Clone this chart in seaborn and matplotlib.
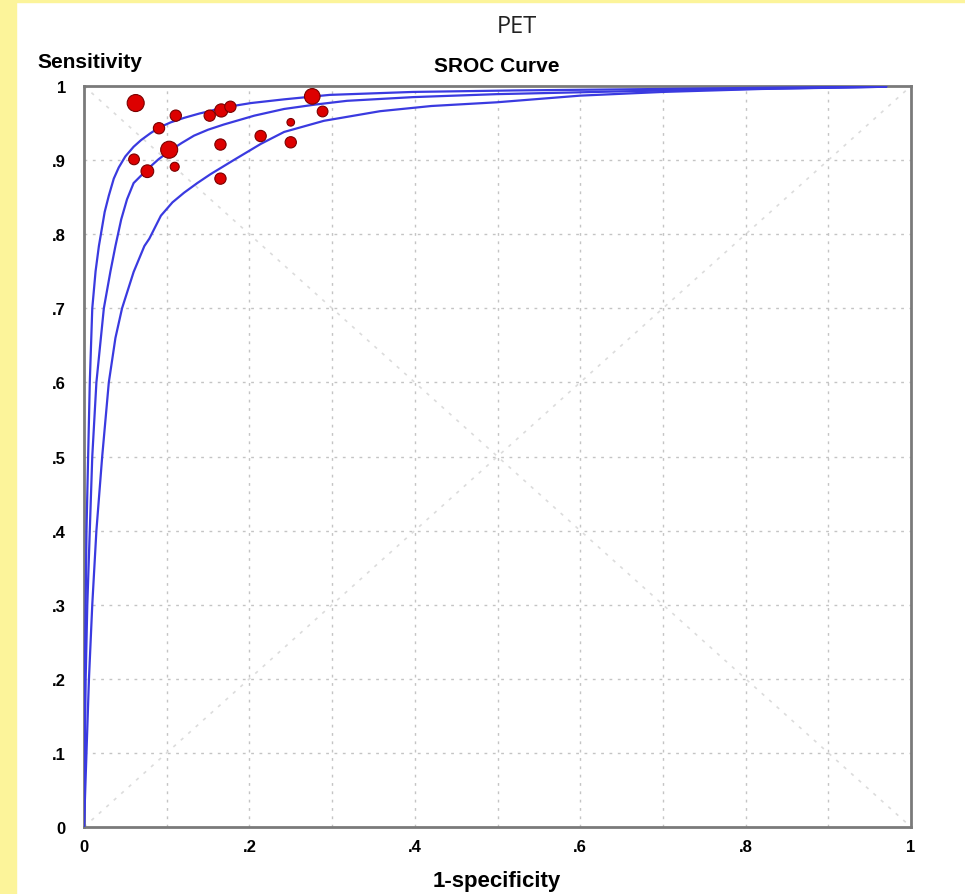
"""
SROC curve for PET (sensitivity vs 1-specificity), redrawn with seaborn.
"""
import matplotlib
matplotlib.use("Agg")
import matplotlib.pyplot as plt
from matplotlib.patches import Rectangle
import pandas as pd
import seaborn as sns

# study points (1-specificity, sensitivity, relative weight)
study_fpr = [0.0625, 0.111, 0.0907, 0.152, 0.166, 0.177, 0.103, 0.0605, 0.0766,
             0.1097, 0.165, 0.165, 0.2136, 0.276, 0.2885, 0.250, 0.250]
study_sens = [0.977, 0.960, 0.943, 0.960, 0.967, 0.972, 0.914, 0.901, 0.885,
              0.891, 0.921, 0.875, 0.9325, 0.986, 0.9656, 0.951, 0.924]
study_weight = [3.0, 1.6, 1.6, 1.6, 2.0, 1.6, 3.0, 1.5, 1.9,
                1.2, 1.6, 1.6, 1.6, 2.6, 1.5, 1.0, 1.6]

# SROC curve and its two bounds
upper_fpr = [0.0, 0.001, 0.003, 0.005, 0.007, 0.010, 0.014, 0.018, 0.025, 0.030,
             0.036, 0.042, 0.050, 0.060, 0.069, 0.080, 0.091, 0.105, 0.121, 0.140,
             0.152, 0.161, 0.180, 0.202, 0.242, 0.297, 0.398, 0.52, 0.70, 0.85, 0.97]
upper_sens = [0.0, 0.20, 0.40, 0.50, 0.60, 0.70, 0.75, 0.784, 0.83, 0.852,
              0.875, 0.89, 0.905, 0.918, 0.927, 0.936, 0.944, 0.951, 0.957, 0.963,
              0.966, 0.969, 0.973, 0.977, 0.982, 0.988, 0.992, 0.994, 0.996, 0.998, 0.999]

mid_fpr = [0.0, 0.002, 0.004, 0.007, 0.010, 0.015, 0.024, 0.032, 0.038, 0.045,
           0.052, 0.060, 0.077, 0.090, 0.103, 0.118, 0.133, 0.150, 0.169, 0.206,
           0.242, 0.28, 0.318, 0.398, 0.499, 0.66, 0.80, 0.97]
mid_sens = [0.0, 0.20, 0.30, 0.40, 0.50, 0.60, 0.70, 0.75, 0.784, 0.82,
            0.847, 0.869, 0.888, 0.901, 0.912, 0.923, 0.933, 0.941, 0.948, 0.960,
            0.969, 0.975, 0.980, 0.985, 0.989, 0.993, 0.996, 0.999]

lower_fpr = [0.0, 0.003, 0.006, 0.010, 0.015, 0.022, 0.030, 0.038, 0.046, 0.060,
             0.073, 0.079, 0.093, 0.107, 0.121, 0.137, 0.153, 0.181, 0.214, 0.242,
             0.29, 0.358, 0.42, 0.499, 0.60, 0.70, 0.82, 0.97]
lower_sens = [0.0, 0.10, 0.20, 0.30, 0.40, 0.50, 0.60, 0.66, 0.70, 0.749,
              0.784, 0.794, 0.825, 0.843, 0.856, 0.869, 0.881, 0.900, 0.922, 0.938,
              0.953, 0.966, 0.973, 0.978, 0.987, 0.992, 0.996, 0.999]

x_ticks = [0, 0.2, 0.4, 0.6, 0.8, 1.0]
x_labels = ["0", ".2", ".4", ".6", ".8", "1"]
y_ticks = [0, 0.1, 0.2, 0.3, 0.4, 0.5, 0.6, 0.7, 0.8, 0.9, 1.0]
y_labels = ["0", ".1", ".2", ".3", ".4", ".5", ".6", ".7", ".8", ".9", "1"]
grid_steps = [0.1, 0.2, 0.3, 0.4, 0.5, 0.6, 0.7, 0.8, 0.9]

CURVE = "#3a3ae0"
DOT = "#dd0000"
GRID = "#c4c4c4"
YELLOW = "#fcf49a"

sns.set_style("white")
plt.rcParams["font.family"] = ["Liberation Sans", "DejaVu Sans"]

W, H = 965, 895
fig = plt.figure(figsize=(W / 100, H / 100), dpi=100)
fig.patches.append(Rectangle((0, 0), 16 / W, 1, transform=fig.transFigure,
                             color=YELLOW, zorder=0))
fig.patches.append(Rectangle((0, 1 - 3 / H), 1, 3 / H, transform=fig.transFigure,
                             color=YELLOW, zorder=0))

ax = fig.add_axes([84 / W, 1 - 828 / H, (911 - 84) / W, (828 - 87) / H])

# grid and diagonals
for g in grid_steps:
    ax.axvline(g, color=GRID, lw=1.0, ls=(0, (2, 4)), zorder=1)
    ax.axhline(g, color=GRID, lw=1.0, ls=(0, (2, 4)), zorder=1)
ax.plot([0, 1], [0, 1], color="#dcdcdc", lw=1.2, ls=(0, (2, 4)), zorder=1)
ax.plot([0, 1], [1, 0], color="#dcdcdc", lw=1.2, ls=(0, (2, 4)), zorder=1)

for xs, ys in [(upper_fpr, upper_sens), (mid_fpr, mid_sens), (lower_fpr, lower_sens)]:
    sns.lineplot(x=xs, y=ys, sort=False, estimator=None, color=CURVE, lw=1.6,
                 ax=ax, zorder=3)

pts = pd.DataFrame({"fpr": study_fpr, "sens": study_sens, "w": study_weight})
sns.scatterplot(data=pts, x="fpr", y="sens", size="w", sizes=(30, 150),
                color=DOT, edgecolor="#7a0000", linewidth=0.8, legend=False,
                ax=ax, zorder=4)

ax.set_xlim(0, 1)
ax.set_ylim(0, 1)
ax.set_xticks(x_ticks)
ax.set_xticklabels(x_labels, fontsize=12, fontweight="bold", color="black")
ax.set_yticks(y_ticks)
ax.set_yticklabels(y_labels, fontsize=12, fontweight="bold", color="black")
ax.tick_params(axis="y", length=7, width=1.5, color="#444444", pad=6)
ax.tick_params(axis="x", length=3, width=1.0, color="#444444", pad=6)
ax.set_xlabel("")
ax.set_ylabel("")
for sp in ax.spines.values():
    sp.set_color("#7a7a7a")
    sp.set_linewidth(2.0)
    sp.set_visible(True)

fig.text(517 / W, 1 - 27 / H, "PET", ha="center", va="center", fontsize=17,
         color="#222222", family=["Open Sans", "DejaVu Sans"])
fig.text(37 / W, 1 - 62 / H, "Sensitivity", ha="left", va="center",
         fontsize=15, fontweight="bold", color="black")
fig.text(497 / W, 1 - 66 / H, "SROC Curve", ha="center", va="center",
         fontsize=15, fontweight="bold", color="black")
fig.text(497 / W, 1 - 882 / H, "1-specificity", ha="center", va="center",
         fontsize=16, fontweight="bold", color="black")

fig.savefig("out.png", dpi=100, facecolor="white")
